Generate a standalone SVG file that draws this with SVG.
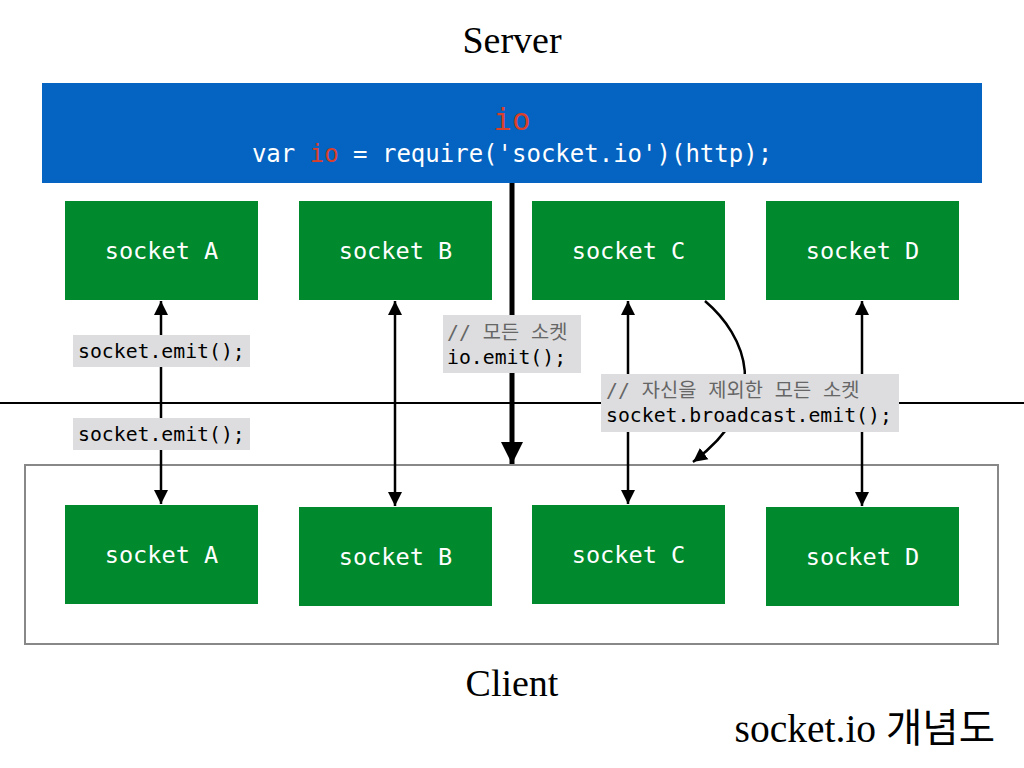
<svg xmlns="http://www.w3.org/2000/svg" width="1024" height="768" viewBox="0 0 1024 768">
<defs>
<marker id="ah" markerUnits="userSpaceOnUse" markerWidth="14" markerHeight="16" viewBox="0 0 14 16" refX="14" refY="8" orient="auto-start-reverse"><path d="M0,1 L14,8 L0,15 Z" fill="#000"/></marker>
<marker id="ahb" markerUnits="userSpaceOnUse" markerWidth="22" markerHeight="22" viewBox="0 0 22 22" refX="22" refY="11" orient="auto"><path d="M0,0 L22,11 L0,22 Z" fill="#000"/></marker>
<style>
.title{font-family:"Liberation Serif","Noto Sans CJK KR",serif;font-size:38px;fill:#000;text-anchor:middle}
.node rect{fill:#00892D}
.node text{font-family:"DejaVu Sans Mono",monospace;font-size:23.6px;fill:#fff;text-anchor:middle}
.lbl rect{fill:#DDDDDF}
.lbl text{font-family:"DejaVu Sans Mono","Noto Sans CJK KR",monospace;font-size:19.8px;fill:#000}
.lbl .cm{fill:#666}
.conn{stroke:#000;stroke-width:2.5;fill:none}
</style>
</defs>
<rect width="1024" height="768" fill="#fff"/>
<text class="title" x="512" y="53">Server</text>
<g id="server">
<rect x="42" y="83" width="940" height="100" fill="#0563C1"/>
<text x="512" y="130" font-family="DejaVu Sans Mono,monospace" font-size="31" fill="#D9402B" text-anchor="middle">io</text>
<text x="512" y="162" font-family="DejaVu Sans Mono,monospace" font-size="24" fill="#fff" text-anchor="middle">var <tspan fill="#D9402B">io</tspan> = require('socket.io')(http);</text>
</g>
<line x1="0" y1="403" x2="1024" y2="403" stroke="#000" stroke-width="2"/>
<g id="client">
<rect x="25" y="465" width="973" height="179" fill="none" stroke="#888" stroke-width="2"/>
</g>
<text class="title" x="512" y="696">Client</text>
<text x="995" y="742" font-family="Liberation Serif,Noto Sans CJK KR,serif" font-size="39.5" text-anchor="end">socket.io 개념도</text>

<g id="srvA" class="node"><rect x="65" y="201" width="193" height="99"/><text x="161.5" y="259">socket A</text></g>
<g id="srvB" class="node"><rect x="299" y="201" width="193" height="99"/><text x="395.5" y="259">socket B</text></g>
<g id="srvC" class="node"><rect x="532" y="201" width="193" height="99"/><text x="628.5" y="259">socket C</text></g>
<g id="srvD" class="node"><rect x="766" y="201" width="193" height="99"/><text x="862.5" y="259">socket D</text></g>

<g id="cliA" class="node"><rect x="65" y="505" width="193" height="99"/><text x="161.5" y="563">socket A</text></g>
<g id="cliB" class="node"><rect x="299" y="507" width="193" height="99"/><text x="395.5" y="565">socket B</text></g>
<g id="cliC" class="node"><rect x="532" y="505" width="193" height="99"/><text x="628.5" y="563">socket C</text></g>
<g id="cliD" class="node"><rect x="766" y="507" width="193" height="99"/><text x="862.5" y="565">socket D</text></g>

<g id="connectors">
<line class="conn" x1="161" y1="301" x2="161" y2="504" marker-start="url(#ah)" marker-end="url(#ah)"/>
<line class="conn" x1="395" y1="301" x2="395" y2="506" marker-start="url(#ah)" marker-end="url(#ah)"/>
<line class="conn" x1="628" y1="301" x2="628" y2="504" marker-start="url(#ah)" marker-end="url(#ah)"/>
<line class="conn" x1="862" y1="301" x2="862" y2="506" marker-start="url(#ah)" marker-end="url(#ah)"/>
<line x1="512" y1="183" x2="512" y2="464" stroke="#000" stroke-width="5" marker-end="url(#ahb)"/>
<path class="conn" d="M705,301 C745,335 775,400 693,462" marker-end="url(#ah)"/>
</g>

<g id="lblA1" class="lbl"><rect x="73" y="335" width="177" height="32"/><text x="78" y="358">socket.emit();</text></g>
<g id="lblA2" class="lbl"><rect x="73" y="418" width="177" height="32"/><text x="78" y="441">socket.emit();</text></g>
<g id="lblIo" class="lbl"><rect x="443" y="315" width="138" height="58"/><text class="cm" x="447" y="339">// 모든 소켓</text><text x="447" y="364">io.emit();</text></g>
<g id="lblBc" class="lbl"><rect x="601" y="374" width="298" height="58"/><text class="cm" x="606" y="397">// 자신을 제외한 모든 소켓</text><text x="606" y="422">socket.broadcast.emit();</text></g>
</svg>
